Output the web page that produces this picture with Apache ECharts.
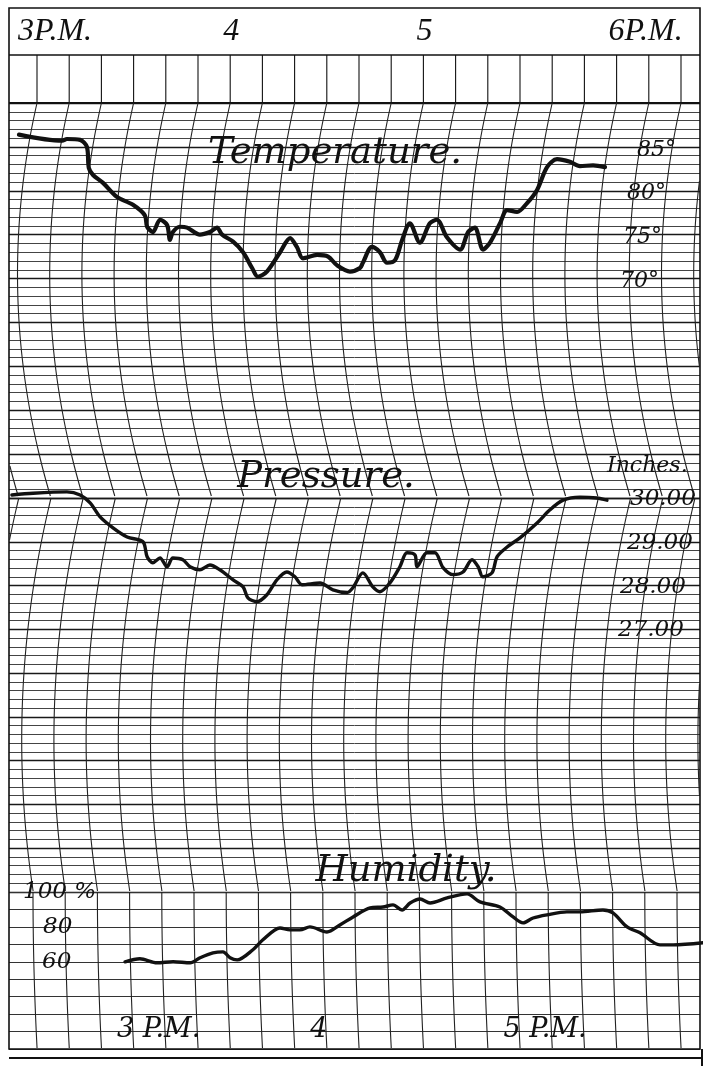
<!DOCTYPE html>
<html>
<head>
<meta charset="utf-8">
<script src="https://cdn.jsdelivr.net/npm/echarts@6/dist/echarts.min.js"></script>
<style>
  html, body { margin: 0; padding: 0; background: #fff; }
  #chart { width: 706px; height: 1066px; }
</style>
</head>
<body>
<div id="chart"></div>
<script>
// ---- data (minutes after 3 P.M.) ----
const tempMinutes = [-5.6, 7.8, 9.3, 13.4, 15.5, 16.1, 17.4, 20.5,
  24.8, 29.8, 33.5, 34.2, 36.0, 38.2, 40.4, 41.3,
  42.2, 44.4, 46.6, 50.6, 53.7, 55.9, 57.5, 60.9,
  64.0, 66.8, 68.6, 71.4, 75.5, 78.6, 80.7, 82.6,
  87.0, 90.4, 93.2, 97.2, 100.3, 101.2, 104.0, 106.5,
  108.7, 111.2, 113.4, 115.8, 118.9, 122.0, 124.2, 127.3,
  131.4, 133.9, 136.0, 138.5, 140.7, 143.8, 146.0, 149.1,
  152.2, 155.3, 158.4, 161.5, 165.5, 168.6, 172.7, 176.4];
const tempValues = [86.4, 85.7, 85.9, 85.8, 85.0, 82.6, 81.8, 80.9,
  79.3, 78.4, 77.2, 75.9, 75.3, 76.7, 76.1, 74.4,
  75.3, 75.9, 75.8, 75.0, 75.3, 75.8, 75.0, 74.2,
  73.0, 71.2, 70.2, 70.8, 73.0, 74.6, 73.6, 72.3,
  72.7, 72.5, 71.5, 70.8, 71.2, 71.8, 73.6, 73.0,
  71.8, 72.1, 74.4, 76.3, 74.1, 76.3, 76.7, 74.7,
  73.3, 75.3, 75.8, 73.3, 74.1, 76.3, 77.8, 77.6,
  78.6, 80.1, 82.7, 83.6, 83.3, 82.8, 82.9, 82.7];

const pressMinutes = [-7.8, -1.2, 9.3, 13.4, 16.5, 19.6, 23.6, 28.0,
  32.9, 34.2, 36.0, 38.2, 40.4, 42.2, 45.3, 47.5,
  50.6, 53.7, 56.8, 60.9, 64.0, 65.5, 68.3, 71.4,
  74.5, 77.6, 80.1, 82.3, 87.9, 91.9, 96.3, 98.1,
  101.2, 104.3, 106.5, 109.6, 112.7, 114.9, 117.4, 118.0,
  121.1, 123.6, 126.1, 129.2, 132.3, 135.1, 137.0, 138.5,
  141.3, 142.9, 146.0, 150.0, 155.3, 159.3, 163.4, 168.6,
  173.9, 177.0];
const pressValues = [30.07, 30.11, 30.14, 30.07, 29.89, 29.57, 29.32, 29.11,
  29.00, 28.66, 28.52, 28.63, 28.43, 28.63, 28.59, 28.43,
  28.36, 28.47, 28.36, 28.13, 27.97, 27.72, 27.63, 27.79,
  28.13, 28.31, 28.20, 28.02, 28.06, 27.90, 27.84, 27.95,
  28.29, 27.97, 27.86, 28.06, 28.43, 28.75, 28.70, 28.43,
  28.75, 28.75, 28.41, 28.25, 28.31, 28.59, 28.43, 28.20,
  28.29, 28.66, 28.88, 29.09, 29.43, 29.73, 29.95, 30.02,
  30.00, 29.95];

const humMinutes = [-0.9, 3.7, 9.0, 14.0, 19.3, 22.4, 26.4, 29.5,
  31.7, 33.9, 38.8, 41.9, 47.2, 50.3, 53.4, 56.5,
  61.8, 65.8, 69.9, 75.2, 79.2, 82.3, 85.1, 87.6,
  90.7, 93.8, 99.1, 105.3, 109.3, 115.5, 119.6, 122.7,
  125.8, 130.1, 136.3, 140.4, 147.5, 150.6, 155.0, 159.0,
  165.2, 169.3, 178.6];
const humValues = [60.0, 61.7, 59.4, 60.0, 59.4, 62.3, 65.1, 65.7,
  62.3, 61.1, 66.9, 72.6, 79.4, 78.3, 78.3, 80.0,
  77.1, 81.1, 85.7, 90.9, 91.4, 92.6, 89.7, 93.7,
  96.0, 93.7, 96.6, 98.9, 94.3, 91.4, 85.7, 82.3,
  85.1, 86.9, 88.6, 88.6, 89.7, 88.0, 80.0, 76.6,
  69.7, 69.7, 70.9];

// tick labels
const headerHours = [0, 60, 120, 180];
const headerLabels = ['3P.M.', '4', '5', '6P.M.'];
const footerHours = [0, 60, 120];
const footerLabels = ['3 P.M.', '4', '5 P.M.'];
const tempTicks = [85, 80, 75, 70];
const tempTickLabels = ['85°', '80°', '75°', '70°'];
const pressTicks = [30, 29, 28, 27];
const pressTickLabels = ['30.00', '29.00', '28.00', '27.00'];
const humTicks = [100, 80, 60];
const humTickLabels = ['100 %', '80', '60'];

// ---- layout ----
const FRAME = { left: 9, right: 700, top: 8, bottom: 1049 };
const X3PM = 37;          // pixel of 3 P.M. on the upper record
const X3PM_HUM = 128;     // pixel of 3 P.M. on the humidity record
const PX_PER_MIN = 3.22;
const HEADER_LINE = 55, GRID_TOP = 103;
const sections = [
  { top: 103, bottom: 498, vertex: 274, k: 1 / 1500, shift: 0 },
  { top: 498, bottom: 892, vertex: 740, k: 1 / 2000, shift: 14 },
  { top: 892, bottom: 1049, vertex: 892, k: 1 / 6000, shift: -4 }
];
const headerNudge = [-19, -7, -7, -8];
const tempLabelLeft = [637, 627, 623, 620];
const pressLabelLeft = [630, 627, 620, 618];
const humLabelLeft = [23, 43, 42];
const SCRIPT = '"DejaVu Serif", serif';
const INK = '#111';

function zip(a, b) { return a.map((v, i) => [v, b[i]]); }
function xRange(origin) {
  return { min: (FRAME.left - origin) / PX_PER_MIN, max: (FRAME.right - origin) / PX_PER_MIN };
}

const gridW = FRAME.right - FRAME.left;
const hidden = { axisLine: { show: false }, axisTick: { show: false }, axisLabel: { show: false } };
function xAxisFor(idx, origin) {
  const r = xRange(origin);
  return Object.assign({ type: 'value', gridIndex: idx, min: r.min, max: r.max, show: false, splitLine: { show: false } }, hidden);
}
function yAxisFor(idx, min, max, interval, minor, major) {
  return Object.assign({
    type: 'value', gridIndex: idx, min: min, max: max, interval: interval,
    splitLine: { show: true, lineStyle: { color: major.color, width: major.width } },
    minorTick: { show: false, splitNumber: 5 },
    minorSplitLine: { show: !!minor, lineStyle: minor ? { color: minor.color, width: minor.width } : {} }
  }, hidden);
}
function trace(name, idx, data, width) {
  return {
    name: name, type: 'line', xAxisIndex: idx, yAxisIndex: idx, data: data,
    showSymbol: false, smooth: 0.3, clip: false, silent: true, animation: false, z: 5,
    lineStyle: { color: INK, width: width, cap: 'round', join: 'round' }
  };
}

const chart = echarts.init(document.getElementById('chart'));
chart.setOption({
  backgroundColor: '#fff',
  animation: false,
  grid: [
    { left: FRAME.left, width: gridW, top: sections[0].top, height: sections[0].bottom - sections[0].top },
    { left: FRAME.left, width: gridW, top: sections[1].top, height: sections[1].bottom - sections[1].top },
    { left: FRAME.left, width: gridW, top: sections[2].top, height: sections[2].bottom - sections[2].top }
  ],
  xAxis: [xAxisFor(0, X3PM), xAxisFor(1, X3PM), xAxisFor(2, X3PM_HUM)],
  yAxis: [
    yAxisFor(0, 45, 90, 5, { color: '#444', width: 1 }, { color: '#181818', width: 1.3 }),
    yAxisFor(1, 21, 30, 1, { color: '#444', width: 1 }, { color: '#181818', width: 1.3 }),
    yAxisFor(2, 10, 100, 10, null, { color: '#333', width: 1.1 })
  ],
  series: [
    trace('Temperature', 0, zip(tempMinutes, tempValues), 4.2),
    trace('Pressure', 1, zip(pressMinutes, pressValues), 3.4),
    trace('Humidity', 2, zip(humMinutes, humValues), 3.4)
  ]
});

// ---- chart paper: frame, header columns and the pen-arc time lines ----
const g = [];
function seg(x1, y1, x2, y2, w) {
  g.push({ type: 'line', z: 1, silent: true, shape: { x1: x1, y1: y1, x2: x2, y2: y2 },
    style: { stroke: INK, lineWidth: w } });
}
function txt(x, y, str, font, align) {
  g.push({ type: 'text', x: x, y: y, z: 20, silent: true,
    style: { text: str, font: font, fill: INK, align: align || 'left', verticalAlign: 'middle' } });
}

g.push({ type: 'rect', z: 1, silent: true,
  shape: { x: FRAME.left, y: FRAME.top, width: gridW, height: FRAME.bottom - FRAME.top },
  style: { fill: 'none', stroke: INK, lineWidth: 1.6 } });
seg(FRAME.left, HEADER_LINE, FRAME.right, HEADER_LINE, 1.5);
seg(FRAME.left, GRID_TOP, FRAME.right, GRID_TOP, 2.2);
seg(FRAME.left, 1058, 703, 1058, 2);
seg(702, FRAME.bottom, 702, 1066, 2);

const COL_W = 10 * PX_PER_MIN;
for (let i = 0; i <= 20; i++) {
  const x = X3PM + COL_W * i;
  seg(x, HEADER_LINE, x, GRID_TOP, 1.1);
}
function arcX(sec, col, y) {
  return col + sec.shift + sec.k * ((y - sec.vertex) * (y - sec.vertex) - (sec.top - sec.vertex) * (sec.top - sec.vertex));
}
sections.forEach(function (sec) {
  for (let i = -2; i <= 22; i++) {
    const col = X3PM + COL_W * i;
    let run = [];
    for (let y = sec.top; y <= sec.bottom + 0.01; y += 3) {
      const x = arcX(sec, col, y);
      if (x > FRAME.left + 0.5 && x < FRAME.right - 0.5) {
        run.push([x, y]);
      } else if (run.length) {
        if (run.length > 1) g.push({ type: 'polyline', z: 1, silent: true, shape: { points: run }, style: { stroke: '#222', lineWidth: 1.1, fill: null } });
        run = [];
      }
    }
    if (run.length > 1) g.push({ type: 'polyline', z: 1, silent: true, shape: { points: run }, style: { stroke: '#222', lineWidth: 1.1, fill: null } });
  }
});

// ---- text ----
headerHours.forEach(function (h, i) {
  const x = chart.convertToPixel({ xAxisIndex: 0 }, h) + headerNudge[i];
  txt(x, 32, headerLabels[i], 'italic 32px "Liberation Serif", serif');
});
footerHours.forEach(function (h, i) {
  const x = chart.convertToPixel({ xAxisIndex: 2 }, h) - 11;
  txt(x, 1030, footerLabels[i], 'italic 27px ' + SCRIPT);
});
tempTicks.forEach(function (v, i) {
  txt(tempLabelLeft[i], chart.convertToPixel({ yAxisIndex: 0 }, v) + 3, tempTickLabels[i], 'italic 22px ' + SCRIPT);
});
pressTicks.forEach(function (v, i) {
  txt(pressLabelLeft[i], chart.convertToPixel({ yAxisIndex: 1 }, v) + 1, pressTickLabels[i], 'italic 23px ' + SCRIPT);
});
humTicks.forEach(function (v, i) {
  txt(humLabelLeft[i], chart.convertToPixel({ yAxisIndex: 2 }, v), humTickLabels[i], 'italic 23px ' + SCRIPT);
});
txt(607, 466, 'Inches.', 'italic 22px ' + SCRIPT);
txt(335, 153, 'Temperature.', 'italic 37px ' + SCRIPT, 'center');
txt(326, 477, 'Pressure.', 'italic 37px ' + SCRIPT, 'center');
txt(406, 871, 'Humidity.', 'italic 37px ' + SCRIPT, 'center');

chart.setOption({ graphic: { elements: g } });
</script>
</body>
</html>
